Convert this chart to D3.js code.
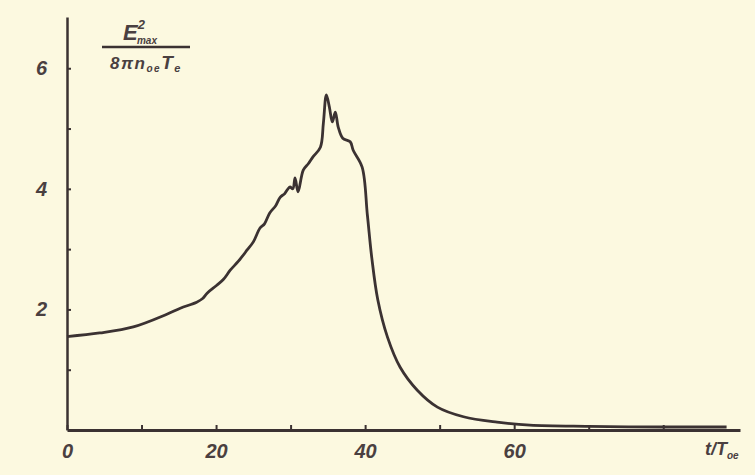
<!DOCTYPE html>
<html>
<head>
<meta charset="utf-8">
<script src="https://cdn.jsdelivr.net/npm/d3@7"></script>
<style>
  body { margin: 0; background: #fcf9e0; }
  svg { display: block; }
  .axis path, .axis line { stroke: #3b3232; }
  .axis text { font-family: "Liberation Sans", sans-serif; font-style: italic; font-weight: bold; font-size: 20px; fill: #4a4040; }
</style>
</head>
<body>
<svg width="755" height="475"></svg>
<script>
// Time axis (t / T_oe) and the normalised field energy
const times = [0, 4.4, 8.9, 13.4, 15.2, 17.4, 18.2, 18.8, 20.1, 21.0, 21.9, 23.0, 24.2, 25.0, 25.9, 26.5, 27.2, 28.0, 28.6, 29.2, 29.9, 30.3, 30.6, 31.0, 31.7, 32.4, 33.0, 34.0, 34.4, 34.8, 35.2, 35.6, 36.0, 36.4, 37.0, 38.0, 38.4, 39.6, 40.3, 40.9, 41.7, 43.0, 44.7, 47.0, 49.7, 53.2, 57.7, 62.1, 70, 80, 88.5];
const energy = [1.55, 1.61, 1.71, 1.92, 2.02, 2.12, 2.18, 2.27, 2.40, 2.50, 2.65, 2.80, 2.99, 3.12, 3.35, 3.42, 3.60, 3.72, 3.86, 3.92, 4.03, 4.00, 4.18, 3.95, 4.31, 4.42, 4.53, 4.69, 5.09, 5.56, 5.36, 5.11, 5.27, 5.02, 4.84, 4.78, 4.64, 4.36, 3.57, 2.85, 2.16, 1.54, 1.04, 0.66, 0.38, 0.22, 0.13, 0.08, 0.06, 0.05, 0.05];

const xTicks = [0, 10, 20, 30, 40, 50, 60, 70, 80];
const xLabels = [0, 20, 40, 60];
const yTicks = [1, 2, 3, 4, 5, 6];
const yLabels = [2, 4, 6];

const svg = d3.select('svg');
const ink = '#3b3232';

const x = d3.scaleLinear().domain([0, 90.3]).range([67, 740]);
const y = d3.scaleLinear().domain([0, 6.85]).range([430, 17]);

// x axis, ticks point up into the plot
svg.append('g')
  .attr('class', 'axis')
  .attr('transform', `translate(0, ${y(0)})`)
  .call(d3.axisBottom(x).tickValues(xTicks).tickSizeInner(-5).tickSizeOuter(0)
    .tickFormat(d => xLabels.includes(d) ? d : ''))
  .call(g => g.select('.domain').attr('stroke-width', 3))
  .call(g => g.selectAll('.tick line').attr('stroke-width', 2))
  .call(g => g.selectAll('.tick text').attr('y', 14));

// y axis, ticks point right into the plot
svg.append('g')
  .attr('class', 'axis')
  .attr('transform', `translate(${x(0)}, 0)`)
  .call(d3.axisLeft(y).tickValues(yTicks).tickSizeInner(-4).tickSizeOuter(0)
    .tickFormat(d => yLabels.includes(d) ? d : ''))
  .call(g => g.select('.domain').attr('stroke-width', 2.5))
  .call(g => g.selectAll('.tick line').attr('stroke-width', 2))
  .call(g => g.selectAll('.tick text').attr('x', -20));

// curve
const line = d3.line()
  .x((d, i) => x(times[i]))
  .y(d => y(d))
  .curve(d3.curveCatmullRom.alpha(0.5));

svg.append('path')
  .datum(energy)
  .attr('d', line)
  .attr('fill', 'none')
  .attr('stroke', ink)
  .attr('stroke-width', 2.8)
  .attr('stroke-linejoin', 'round');

// y axis label as a fraction
const lab = svg.append('g')
  .attr('font-family', '"Liberation Sans", sans-serif')
  .attr('font-style', 'italic')
  .attr('font-weight', 'bold')
  .attr('fill', '#4a4040');

const num = lab.append('text').attr('x', 140).attr('y', 40).attr('text-anchor', 'middle').attr('font-size', 22);
num.append('tspan').text('E');
num.append('tspan').attr('font-size', 13).attr('dy', -11).text('2');
num.append('tspan').attr('font-size', 10).attr('dx', -8).attr('dy', 15).text('max');

lab.append('line')
  .attr('x1', 102).attr('x2', 190).attr('y1', 47).attr('y2', 47)
  .attr('stroke', ink).attr('stroke-width', 2.5);

const den = lab.append('text').attr('x', 146).attr('y', 69).attr('text-anchor', 'middle')
  .attr('font-size', 17).attr('letter-spacing', 1.5);
den.append('tspan').text('8πn');
den.append('tspan').attr('font-size', 10).attr('dy', 3).text('oe');
den.append('tspan').attr('font-size', 19).attr('dy', -3).text('T');
den.append('tspan').attr('font-size', 11).attr('dy', 3).text('e');

// x axis label t/T_oe
const xl = svg.append('text')
  .attr('x', 705).attr('y', 455)
  .attr('font-family', '"Liberation Sans", sans-serif')
  .attr('font-style', 'italic')
  .attr('font-weight', 'bold')
  .attr('fill', '#4a4040')
  .attr('font-size', 18);
xl.append('tspan').text('t/T');
xl.append('tspan').attr('font-size', 10).attr('dy', 4).text('oe');
</script>
</body>
</html>
